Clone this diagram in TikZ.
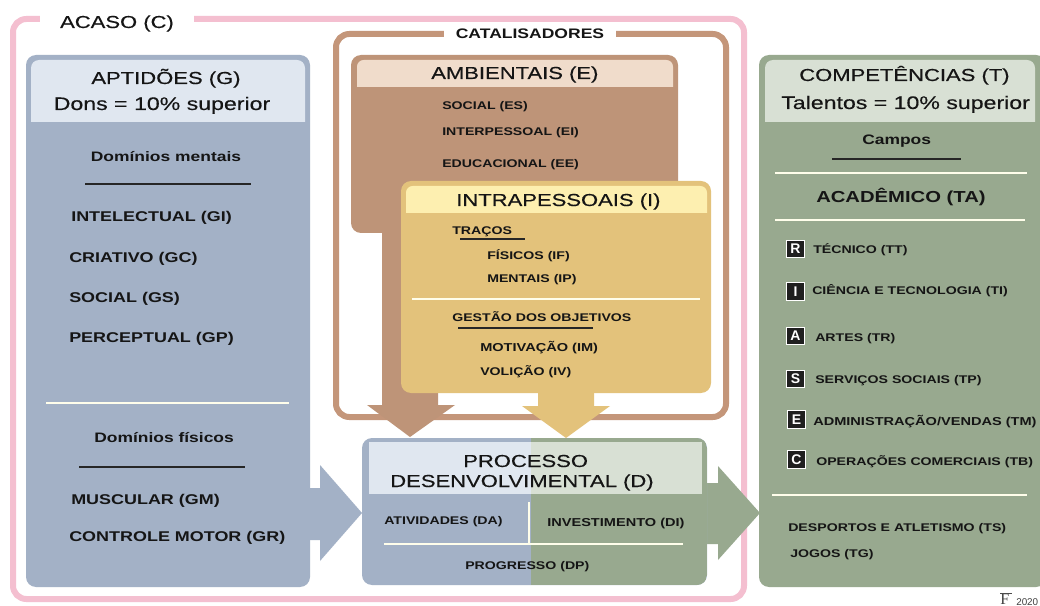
\documentclass[tikz,border=0pt]{standalone}
\usepackage{fontspec}
\setmainfont{Liberation Sans}
\newfontfamily\widefont[FakeStretch=1.27]{Liberation Sans}
\newfontfamily\headfont[FakeStretch=1.27,FakeBold=0.35]{Liberation Sans}
\definecolor{pinkf}{HTML}{F4BFD0}
\definecolor{bluep}{HTML}{A3B1C6}
\definecolor{bluel}{HTML}{E0E7F0}
\definecolor{brownp}{HTML}{BE9478}
\definecolor{brownf}{HTML}{C4967A}
\definecolor{brownl}{HTML}{F0DCCB}
\definecolor{yellp}{HTML}{E3C27B}
\definecolor{yelll}{HTML}{FDEFB0}
\definecolor{greenp}{HTML}{98A98F}
\definecolor{greenl}{HTML}{D8E0D4}
\definecolor{ink}{HTML}{151515}
\newcommand\panel[6]{%
  \pgfmathsetlengthmacro\pw{(#4-#2)*0.75pt}%
  \pgfmathsetlengthmacro\ph{(#5-#3)*0.75pt}%
  \node[#6,minimum width=\pw,minimum height=\ph,anchor=north west] (#1) at (#2,#3) {};}
\tikzset{
  pbox/.style={rectangle,rounded corners=7.5pt,inner sep=0pt,outer sep=0pt},
  frameline/.style={line width=4.5pt,rounded corners=10pt},
  whitel/.style={draw=white!92!yellow,line width=1.1pt},
  blackl/.style={draw=black!85,line width=0.9pt},
  hd/.style={font=\headfont\fontsize{13pt}{14pt}\selectfont,text=ink,anchor=base west,inner sep=0pt},
  hdb/.style={font=\headfont\fontsize{13.65pt}{15pt}\selectfont,text=ink,anchor=base,inner sep=0pt},
  lab/.style={font=\widefont\bfseries\fontsize{8.35pt}{10pt}\selectfont,text=ink,anchor=base west,inner sep=0pt},
  labw/.style={font=\widefont\bfseries\fontsize{8.6pt}{10pt}\selectfont,text=ink,anchor=base west,inner sep=0pt},
  labm/.style={font=\widefont\bfseries\fontsize{10.6pt}{12pt}\selectfont,text=ink,anchor=base west,inner sep=0pt},
  labs/.style={font=\widefont\bfseries\fontsize{10.3pt}{12pt}\selectfont,text=ink,anchor=base west,inner sep=0pt},
  letterbox/.style={rectangle,fill=black!88,draw=white!75,line width=0.6pt,text=white,
    font=\bfseries\fontsize{10.5pt}{11pt}\selectfont,minimum width=13pt,minimum height=13pt,inner sep=0pt},
}
\begin{document}
\begin{tikzpicture}[x=0.75pt,y=-0.75pt]
\useasboundingbox (0,0) rectangle (1040,606);
\fill[white] (0,0) rectangle (1040,606);
% chance frame
\draw[frameline,draw=pinkf] (13,19) rectangle (744,599);
\node[hd,anchor=base,fill=white,inner xsep=15pt,inner ysep=5pt] (acaso) at (117,28) {ACASO (C)};
% giftedness panel
\panel{aptid}{26}{55}{310}{587}{pbox,fill=bluep}
\fill[bluel] (31,122) {[rounded corners=6pt] -- (31,60) -- (305,60)} -- (305,122) -- cycle;
% competence panel
\panel{compet}{759}{55}{1046}{587}{pbox,fill=greenp}
\fill[greenl] (765,122) {[rounded corners=6pt] -- (765,60) -- (1035,60)} -- (1035,122) -- cycle;
% catalyst frame
\draw[frameline,draw=brownf] (336,34) rectangle (726,417);
\node[labm,anchor=base,fill=white,inner xsep=9pt,inner ysep=4pt,font=\widefont\bfseries\fontsize{10.35pt}{12pt}\selectfont] (catal) at (530,39) {CATALISADORES};
% environmental
\panel{amb}{351}{55}{678}{233}{pbox,fill=brownp}
\fill[brownl] (357,87) {[rounded corners=5pt] -- (357,60) -- (673,60)} -- (673,87) -- cycle;
\fill[brownp] (382,225) -- (382,405) -- (367,405) -- (410,437) -- (455,405) -- (438,405) -- (438,225) -- cycle;
% intrapersonal
\fill[yellp] (538,385) -- (538,406) -- (522,406) -- (566,438) -- (610,406) -- (594,406) -- (594,385) -- cycle;
\panel{intra}{401}{181}{711}{393}{pbox,fill=yellp}
\fill[yelll] (406,213) {[rounded corners=5pt] -- (406,186) -- (707,186)} -- (707,213) -- cycle;
% block arrows
\fill[bluep] (305,488) -- (320,488) -- (320,465) -- (362,513) -- (320,561) -- (320,540) -- (305,540) -- cycle;
\fill[greenp] (700,483) -- (718,483) -- (718,466) -- (760,513) -- (718,560) -- (718,544) -- (700,544) -- cycle;
% process panel
\panel{proc}{362}{438}{707}{585}{pbox,fill=bluep}
\begin{scope}
\clip[rounded corners=7.5pt] (362,438) rectangle (707,585);
\fill[greenp] (531,438) rectangle (707,585);
\end{scope}
\fill[bluel] (369,442) rectangle (531,494);
\fill[greenl] (531,442) rectangle (702,494);
% rules
\draw[whitel] (46,403) -- (289,403);
\draw[whitel] (412,299) -- (700,299);
\draw[whitel] (384,544) -- (683,544);
\draw[whitel] (529,502) -- (529,544);
\draw[whitel] (775,173) -- (1027,173);
\draw[whitel] (775,220) -- (1025,220);
\draw[whitel] (772,495) -- (1027,495);
\draw[blackl] (85,184) -- (251,184);
\draw[blackl] (79,467) -- (245,467);
\draw[blackl] (832,159) -- (961,159);
\draw[blackl] (460,239) -- (525,239);
\draw[blackl] (458,328) -- (593,328);
% aptitudes text
\node[hd,anchor=base] (g1) at (166,84) {APTIDÕES (G)};
\node[hdb] (g2) at (162,110) {Dons = 10\% superior};
\node[labs,anchor=base] (g3) at (166,162) {Domínios mentais};
\node[labm] (gi) at (71,222) {INTELECTUAL (GI)};
\node[labm] (gc) at (69,263) {CRIATIVO (GC)};
\node[labm] (gs) at (69,303) {SOCIAL (GS)};
\node[labm] (gp) at (69,343) {PERCEPTUAL (GP)};
\node[labs] (g4) at (94,442) {Domínios físicos};
\node[labm] (gm) at (71,504) {MUSCULAR (GM)};
\node[labm] (gr) at (69,541) {CONTROLE MOTOR (GR)};
% environmental text
\node[hd] (e0) at (431,79) {AMBIENTAIS (E)};
\node[lab] (es) at (442,110) {SOCIAL (ES)};
\node[lab] (ei) at (442,136) {INTERPESSOAL (EI)};
\node[lab] (ee) at (442,168) {EDUCACIONAL (EE)};
% intrapersonal text
\node[hd] (i0) at (456,206) {INTRAPESSOAIS (I)};
\node[lab] (it) at (452,235) {TRAÇOS};
\node[lab] (if) at (487,260) {FÍSICOS (IF)};
\node[lab] (ip) at (487,282) {MENTAIS (IP)};
\node[lab] (ig) at (452,322) {GESTÃO DOS OBJETIVOS};
\node[labw] (im) at (480,352) {MOTIVAÇÃO (IM)};
\node[lab] (iv) at (480,375) {VOLIÇÃO (IV)};
% process text
\node[hd] (d1) at (463,467) {PROCESSO};
\node[hd] (d2) at (390,487) {DESENVOLVIMENTAL (D)};
\node[lab] (da) at (384,524) {ATIVIDADES (DA)};
\node[labw] (di) at (547,526) {INVESTIMENTO (DI)};
\node[lab] (dp) at (465,569) {PROGRESSO (DP)};
% competencies text
\node[hd] (t1) at (799,81) {COMPETÊNCIAS (T)};
\node[hdb,anchor=base west] (t2) at (781,109) {Talentos = 10\% superior};
\node[labs] (t3) at (862,145) {Campos};
\node[labm,font=\widefont\bfseries\fontsize{11.95pt}{13pt}\selectfont] (ta) at (816,203) {ACADÊMICO (TA)};
\node[letterbox] (br) at (795.5,249) {R};
\node[letterbox] (bi) at (795.5,291.5) {I};
\node[letterbox] (ba) at (795.5,336) {A};
\node[letterbox] (bs) at (795.5,379) {S};
\node[letterbox] (be) at (796.5,419.5) {E};
\node[letterbox] (bc) at (796.5,459.5) {C};
\node[lab] (tt) at (813,254) {TÉCNICO (TT)};
\node[lab] (ti) at (812,295) {CIÊNCIA E TECNOLOGIA (TI)};
\node[lab] (tr) at (815,341) {ARTES (TR)};
\node[lab] (tp) at (815,383) {SERVIÇOS SOCIAIS (TP)};
\node[labw] (tm) at (813,425) {ADMINISTRAÇÃO/VENDAS (TM)};
\node[lab] (tb) at (816,465) {OPERAÇÕES COMERCIAIS (TB)};
\node[lab] (ts) at (788,531) {DESPORTOS E ATLETISMO (TS)};
\node[lab] (tg) at (790,557) {JOGOS (TG)};
% copyright
\node[anchor=base west,inner sep=0pt,font=\fontspec{Liberation Serif}\fontsize{12pt}{12pt}\selectfont,text=black!75] (logo) at (1000,604) {F};
\draw[black!70,line width=0.4pt] (1000,593) -- (1012,593);
\node[anchor=base west,inner sep=0pt,font=\fontsize{7.4pt}{8pt}\selectfont,text=black!75] (yr) at (1016,605) {2020};
\end{tikzpicture}
\end{document}
